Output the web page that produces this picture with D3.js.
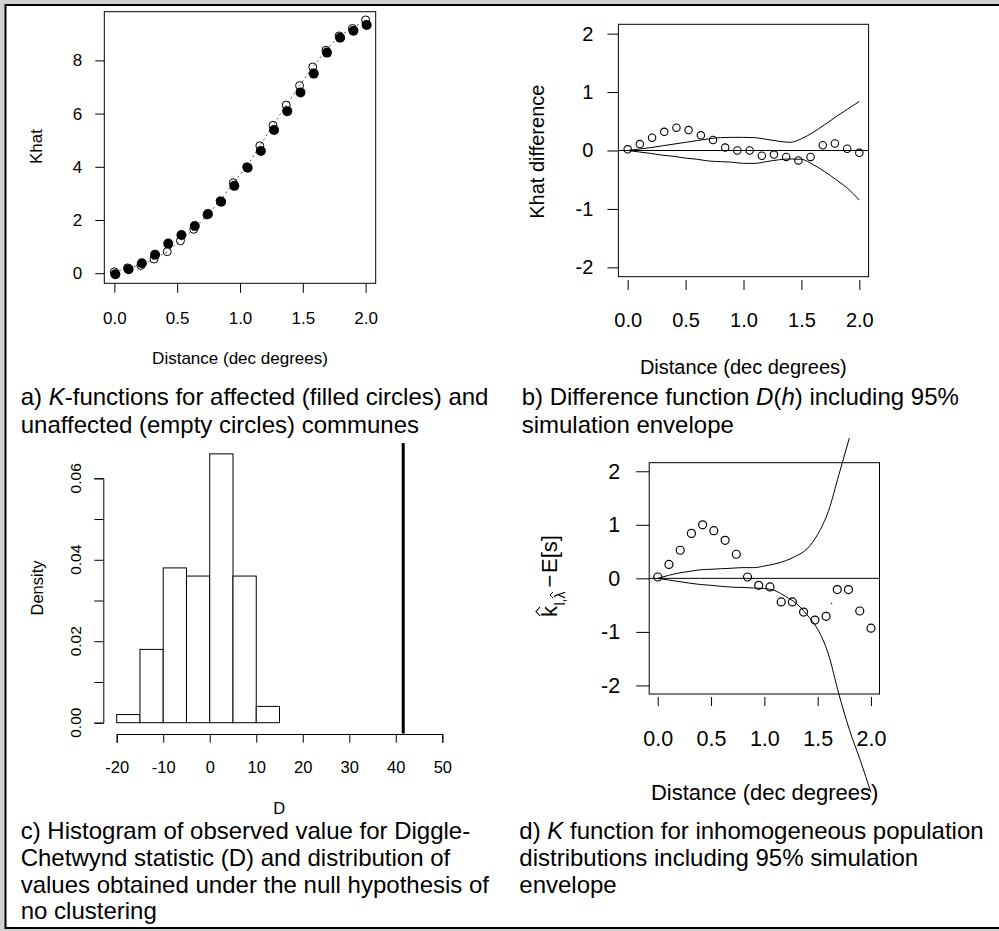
<!DOCTYPE html>
<html>
<head>
<meta charset="utf-8">
<script src="https://cdn.jsdelivr.net/npm/d3@7"></script>
<style>
  html, body { margin: 0; padding: 0; background: #d0d0d0; }
  svg { display: block; }
</style>
</head>
<body>
<svg id="chart" width="999" height="931"></svg>
<script>
// ---- data ----
var distance = [0, 0.105, 0.211, 0.316, 0.421, 0.526, 0.632, 0.737, 0.842, 0.947,
                1.053, 1.158, 1.263, 1.368, 1.474, 1.579, 1.684, 1.789, 1.895, 2.0];

// a) K-functions
var khatAffected   = [0.0, 0.19, 0.41, 0.73, 1.15, 1.47, 1.81, 2.26, 2.72, 3.32,
                      4.0, 4.63, 5.42, 6.13, 6.83, 7.54, 8.33, 8.89, 9.15, 9.37];
var khatUnaffected = [0.05, 0.2, 0.29, 0.53, 0.81, 1.22, 1.65, 2.19, 2.72, 3.4,
                      4.0, 4.79, 5.56, 6.32, 7.05, 7.75, 8.38, 8.92, 9.2, 9.52];

// b) difference function and envelope
var khatDiff = [0.02, 0.11, 0.22, 0.32, 0.39, 0.35, 0.26, 0.18, 0.05, 0.0,
                0.0, -0.09, -0.07, -0.11, -0.17, -0.11, 0.09, 0.12, 0.03, -0.04];
var envDistance = [0, 0.1, 0.2, 0.3, 0.4, 0.5, 0.6, 0.7, 0.8, 0.9, 1.0,
                   1.1, 1.2, 1.3, 1.4, 1.5, 1.6, 1.7, 1.8, 1.9, 2.0];
var diffUpper = [0, 0.025, 0.05, 0.08, 0.11, 0.14, 0.17, 0.2, 0.22, 0.225, 0.225,
                 0.22, 0.19, 0.16, 0.14, 0.2, 0.31, 0.44, 0.58, 0.71, 0.84];
var diffLower = [0, -0.025, -0.05, -0.08, -0.1, -0.13, -0.15, -0.18, -0.19, -0.2, -0.22,
                 -0.22, -0.19, -0.16, -0.145, -0.15, -0.24, -0.36, -0.5, -0.65, -0.85];

// c) histogram of D under null
var binEdges   = [-20, -15, -10, -5, 0, 5, 10, 15];
var binDensity = [0.002, 0.018, 0.038, 0.036, 0.066, 0.036, 0.004];
var observedD  = 41.6;

// d) inhomogeneous K
var inhomObs = [0.025, 0.26, 0.525, 0.84, 1.0, 0.89, 0.71, 0.45, 0.025, -0.13,
                -0.16, -0.44, -0.44, -0.63, -0.78, -0.71, -0.21, -0.21, -0.61, -0.93];
var inhomUpper = [0, 0.055, 0.1, 0.13, 0.16, 0.17, 0.18, 0.19, 0.2, 0.2, 0.23,
                  0.27, 0.33, 0.42, 0.55, 0.82, 1.25, 1.94, 2.64];
var inhomLower = [0, -0.03, -0.06, -0.09, -0.115, -0.13, -0.15, -0.165, -0.17, -0.18, -0.19,
                  -0.23, -0.34, -0.47, -0.68, -0.95, -1.41, -2.17, -2.84, -3.4, -4.0];
var strayDot = [1.63, -0.47];

// tick values
var distTicks = [0, 0.5, 1, 1.5, 2];
var khatTicks = [0, 2, 4, 6, 8];
var diffTicks = [-2, -1, 0, 1, 2];
var dTicks = [-20, -10, 0, 10, 20, 30, 40, 50];
var densityTicks = [0, 0.01, 0.02, 0.03, 0.04, 0.05, 0.06];
var densityLabels = [0, 0.02, 0.04, 0.06];

var FONT = '"Liberation Sans", Arial, Helvetica, sans-serif';

var svg = d3.select("#chart");

// frame of the table
svg.append("rect").attr("x", 0).attr("y", 0).attr("width", 999).attr("height", 931)
  .attr("fill", "#d0d0d0");
svg.append("rect").attr("x", 5.5).attr("y", 5).attr("width", 1000).attr("height", 923)
  .attr("fill", "#fff").attr("stroke", "#000").attr("stroke-width", 2);

// R prints plain hyphen minus signs
var intFmt = d => String(d);
var fmt1 = d => d.toFixed(1);

// style a d3 axis like base R graphics
function styleAxis(g, size, keepDomain) {
  if (!keepDomain) g.select(".domain").remove();
  g.attr("font-family", FONT).attr("font-size", size);
  g.selectAll(".tick line").attr("stroke", "#000");
  g.selectAll(".domain").attr("stroke", "#000");
  g.selectAll("text").attr("fill", "#000");
}

function yTitle(x, y, size, txt) {
  svg.append("text")
    .attr("transform", `translate(${x},${y}) rotate(-90)`)
    .attr("text-anchor", "middle")
    .attr("dominant-baseline", "central")
    .attr("font-family", FONT).attr("font-size", size)
    .text(txt);
}

function xTitle(x, y, size, txt) {
  svg.append("text")
    .attr("x", x).attr("y", y)
    .attr("text-anchor", "middle")
    .attr("dominant-baseline", "central")
    .attr("font-family", FONT).attr("font-size", size)
    .text(txt);
}

function box(x, y) {
  svg.append("rect")
    .attr("x", x.range()[0]).attr("y", y.range()[1])
    .attr("width", x.range()[1] - x.range()[0])
    .attr("height", y.range()[0] - y.range()[1])
    .attr("fill", "none").attr("stroke", "#000").attr("stroke-width", 1);
}

// ---------------- panel a ----------------
var xA = d3.scaleLinear().domain([-0.08, 2.08]).range([104.3, 375.7]);
var yA = d3.scaleLinear().domain([-0.38, 9.83]).range([283.3, 11.7]);

svg.append("g").attr("transform", "translate(104.3,0)")
  .call(d3.axisLeft(yA).tickValues(khatTicks).tickSize(9).tickPadding(13).tickFormat(intFmt))
  .call(g => styleAxis(g, 17));
svg.append("g").attr("transform", "translate(0,283.3)")
  .call(d3.axisBottom(xA).tickValues(distTicks).tickSize(9.5).tickPadding(19).tickFormat(fmt1))
  .call(g => styleAxis(g, 17));

svg.append("path")
  .datum(distance.map((d, i) => [d, khatUnaffected[i]]))
  .attr("fill", "none").attr("stroke", "#555").attr("stroke-width", 1)
  .attr("stroke-dasharray", "2,3")
  .attr("d", d3.line().x(d => xA(d[0])).y(d => yA(d[1])));

svg.append("g").selectAll("circle")
  .data(distance.map((d, i) => [d, khatUnaffected[i]]))
  .enter().append("circle")
  .attr("cx", d => xA(d[0])).attr("cy", d => yA(d[1])).attr("r", 4)
  .attr("fill", "none").attr("stroke", "#000").attr("stroke-width", 1);

svg.append("g").selectAll("circle")
  .data(distance.map((d, i) => [d, khatAffected[i]]))
  .enter().append("circle")
  .attr("cx", d => xA(d[0]) + 1).attr("cy", d => yA(d[1]) + 1).attr("r", 5)
  .attr("fill", "#000");

box(xA, yA);
yTitle(36.7, 146.5, 17, "Khat");
xTitle(240, 358, 17, "Distance (dec degrees)");

// ---------------- panel b ----------------
var xB = d3.scaleLinear().domain([-0.08, 2.08]).range([618.4, 868.6]);
var yB = d3.scaleLinear().domain([-2.16, 2.16]).range([276.7, 24.3]);

svg.append("g").attr("transform", "translate(618.4,0)")
  .call(d3.axisLeft(yB).tickValues(diffTicks).tickSize(11).tickPadding(14).tickFormat(intFmt))
  .call(g => styleAxis(g, 20));
svg.append("g").attr("transform", "translate(0,280)")
  .call(d3.axisBottom(xB).tickValues(distTicks).tickSize(10).tickPadding(23).tickFormat(fmt1))
  .call(g => styleAxis(g, 20));

svg.append("line")
  .attr("x1", xB.range()[0]).attr("x2", xB.range()[1])
  .attr("y1", yB(0)).attr("y2", yB(0))
  .attr("stroke", "#000").attr("stroke-width", 1);

[diffUpper, diffLower].forEach(function(env) {
  svg.append("path")
    .datum(envDistance.map((d, i) => [d, env[i]]))
    .attr("fill", "none").attr("stroke", "#000").attr("stroke-width", 1)
    .attr("d", d3.line().curve(d3.curveMonotoneX).x(d => xB(d[0])).y(d => yB(d[1])));
});

svg.append("g").selectAll("circle")
  .data(distance.map((d, i) => [d, khatDiff[i]]))
  .enter().append("circle")
  .attr("cx", d => xB(d[0])).attr("cy", d => yB(d[1])).attr("r", 3.7)
  .attr("fill", "none").attr("stroke", "#000").attr("stroke-width", 1.1);

box(xB, yB);
yTitle(536.7, 151.7, 20, "Khat difference");
xTitle(743.3, 366.7, 20, "Distance (dec degrees)");

// ---------------- panel c ----------------
var xC = d3.scaleLinear().domain([-20, 50]).range([116.7, 442.3]);
var yC = d3.scaleLinear().domain([0, 0.06]).range([722.7, 478.3]);

svg.append("g").attr("transform", "translate(103.3,0)")
  .call(d3.axisLeft(yC).tickValues(densityTicks).tickSize(9).tickFormat(""))
  .call(g => styleAxis(g, 16, true));

svg.append("g").selectAll("text")
  .data(densityLabels)
  .enter().append("text")
  .attr("transform", d => `translate(81,${yC(d)}) rotate(-90)`)
  .attr("text-anchor", "middle")
  .attr("font-family", FONT).attr("font-size", 15.5)
  .text(d => d.toFixed(2));

svg.append("g").attr("transform", "translate(0,734)")
  .call(d3.axisBottom(xC).tickValues(dTicks).tickSize(8.7).tickPadding(19).tickFormat(intFmt))
  .call(g => styleAxis(g, 16.5, true));

svg.append("g").selectAll("rect")
  .data(binDensity)
  .enter().append("rect")
  .attr("x", (d, i) => xC(binEdges[i]))
  .attr("width", (d, i) => xC(binEdges[i + 1]) - xC(binEdges[i]))
  .attr("y", d => yC(d))
  .attr("height", d => yC(0) - yC(d))
  .attr("fill", "#fff").attr("stroke", "#000").attr("stroke-width", 1);

svg.append("line")
  .attr("x1", xC(observedD)).attr("x2", xC(observedD))
  .attr("y1", yC(0.06864)).attr("y2", yC(-0.00264))
  .attr("stroke", "#000").attr("stroke-width", 3);

yTitle(36.7, 588, 16.5, "Density");
xTitle(279.3, 808, 16.5, "D");

// ---------------- panel d ----------------
var xD = d3.scaleLinear().domain([-0.08, 2.08]).range([649.2, 879.5]);
var yD = d3.scaleLinear().domain([-2.16, 2.16]).range([694, 462.7]);

svg.append("g").attr("transform", "translate(649.2,0)")
  .call(d3.axisLeft(yD).tickValues(diffTicks).tickSize(13).tickPadding(16).tickFormat(intFmt))
  .call(g => styleAxis(g, 21.5));
svg.append("g").attr("transform", "translate(0,697)")
  .call(d3.axisBottom(xD).tickValues(distTicks).tickSize(9).tickPadding(25).tickFormat(fmt1))
  .call(g => styleAxis(g, 21.5));

svg.append("line")
  .attr("x1", xD.range()[0]).attr("x2", xD.range()[1])
  .attr("y1", yD(0)).attr("y2", yD(0))
  .attr("stroke", "#000").attr("stroke-width", 1);

svg.append("clipPath").attr("id", "clipD")
  .append("rect").attr("x", 500).attr("y", 438).attr("width", 499).attr("height", 400);

[inhomUpper, inhomLower].forEach(function(env) {
  svg.append("path")
    .datum(env.map((v, i) => [envDistance[i], v]))
    .attr("clip-path", "url(#clipD)")
    .attr("fill", "none").attr("stroke", "#000").attr("stroke-width", 1)
    .attr("d", d3.line().curve(d3.curveMonotoneX).x(d => xD(d[0])).y(d => yD(d[1])));
});

svg.append("g").selectAll("circle")
  .data(distance.map((d, i) => [d, inhomObs[i]]))
  .enter().append("circle")
  .attr("cx", d => xD(d[0])).attr("cy", d => yD(d[1])).attr("r", 4)
  .attr("fill", "none").attr("stroke", "#000").attr("stroke-width", 1.2);

svg.append("circle")
  .attr("cx", xD(strayDot[0])).attr("cy", yD(strayDot[1])).attr("r", 0.8)
  .attr("fill", "#333");

box(xD, yD);
xTitle(764.7, 792.7, 22, "Distance (dec degrees)");

// y label: k-hat sub (l, lambda-hat) minus E[s]
var lab = svg.append("g")
  .attr("transform", "translate(557,579) rotate(-90)")
  .attr("font-family", FONT);
lab.append("text").attr("x", -38).attr("y", 0).attr("font-size", 22).text("k");
lab.append("path").attr("d", "M-37,-17 L-32.5,-21 L-28,-17")
  .attr("fill", "none").attr("stroke", "#000").attr("stroke-width", 1.1);
lab.append("text").attr("x", -26.5).attr("y", 8).attr("font-size", 14).text("l,λ");
lab.append("path").attr("d", "M-19,-4 L-16,-7 L-13,-4")
  .attr("fill", "none").attr("stroke", "#000").attr("stroke-width", 0.9);
lab.append("text").attr("x", -8.5).attr("y", 0).attr("font-size", 22).text("\u2212");
lab.append("text").attr("x", 6).attr("y", 0).attr("font-size", 22).text("E[s]");

// ---------------- captions ----------------
function caption(x, y0, lh, lines) {
  var t = svg.append("text").attr("font-family", FONT).attr("font-size", 24).attr("fill", "#000");
  lines.forEach(function(parts, li) {
    parts.forEach(function(p, pi) {
      var ts = t.append("tspan").text(p[0]);
      if (pi === 0) ts.attr("x", x).attr("y", y0 + li * lh);
      if (p[1]) ts.attr("font-style", "italic");
    });
  });
}

caption(20.7, 404.5, 28.5, [
  [["a) "], ["K", true], ["-functions for affected (filled circles) and"]],
  [["unaffected (empty circles) communes"]]
]);
caption(521.7, 404.5, 28.5, [
  [["b) Difference function "], ["D", true], ["("], ["h", true], [") including 95%"]],
  [["simulation envelope"]]
]);
caption(20.7, 839.3, 26.7, [
  [["c) Histogram of observed value for Diggle-"]],
  [["Chetwynd statistic (D) and distribution of"]],
  [["values obtained under the null hypothesis of"]],
  [["no clustering"]]
]);
caption(519.3, 839.3, 26.7, [
  [["d) "], ["K", true], [" function for inhomogeneous population"]],
  [["distributions including 95% simulation"]],
  [["envelope"]]
]);
</script>
</body>
</html>
